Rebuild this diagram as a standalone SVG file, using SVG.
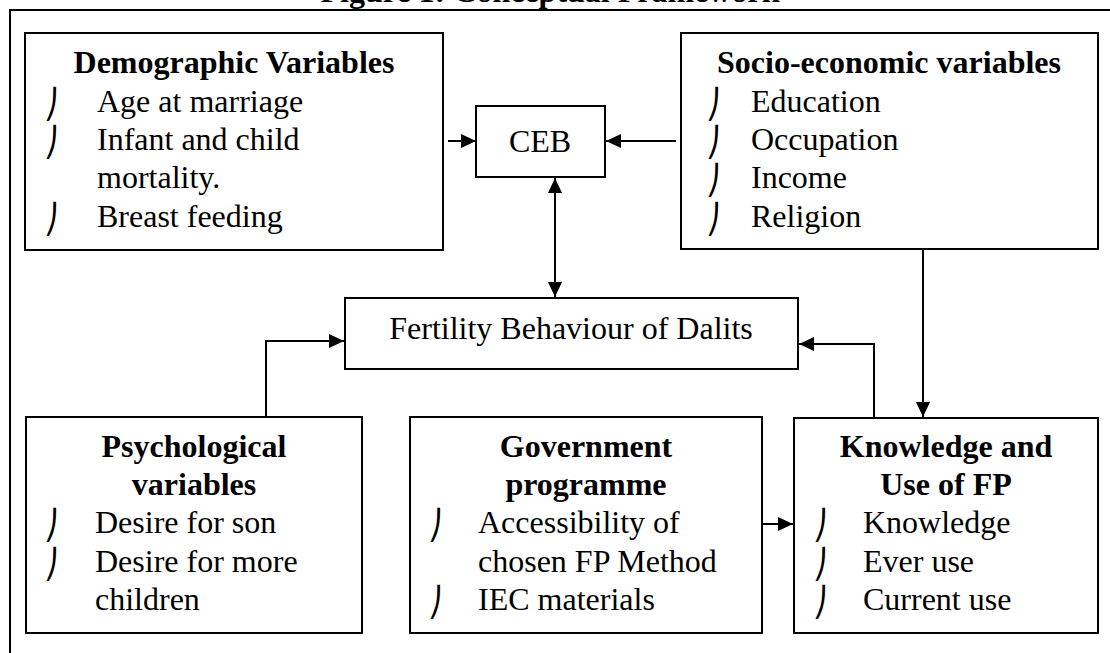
<svg xmlns="http://www.w3.org/2000/svg" width="1110" height="653" viewBox="0 0 1110 653">
<defs>
<style>
.box{fill:#fff;stroke:#000;stroke-width:2}
.t{font-family:"Liberation Serif","Times New Roman",serif;font-size:32px;fill:#000}
.b{font-weight:bold}
.c{text-anchor:middle}
.bul{font-family:"DejaVu Sans",sans-serif;font-size:29px;fill:#000}
.con{fill:none;stroke:#000;stroke-width:2}
</style>
<marker id="ah" markerUnits="userSpaceOnUse" markerWidth="15" markerHeight="14" refX="15" refY="7" orient="auto-start-reverse">
<path d="M0,0 L15,7 L0,14 z" fill="#000"/>
</marker>
</defs>
<rect width="1110" height="653" fill="#fff"/>
<text class="t b c" x="550" y="2">Figure 1: Conceptual Framework</text>
<path d="M10,653 V10 H1110" fill="none" stroke="#000" stroke-width="2"/>

<g id="demographic">
<rect class="box" x="25" y="33" width="418" height="217"/>
<text class="t b c" x="234" y="73">Demographic Variables</text>
<text class="bul" x="44" y="114">⎠</text>
<text class="t" x="97" y="112">Age at marriage</text>
<text class="bul" x="44" y="152">⎠</text>
<text class="t" x="97" y="150">Infant and child</text>
<text class="t" x="97" y="188">mortality.</text>
<text class="bul" x="44" y="229">⎠</text>
<text class="t" x="97" y="227">Breast feeding</text>
</g>

<g id="ceb">
<rect class="box" x="476" y="106" width="129" height="71"/>
<text class="t c" x="540" y="152">CEB</text>
</g>

<g id="socio">
<rect class="box" x="681" y="33" width="417" height="216"/>
<text class="t b c" x="889" y="73">Socio-economic variables</text>
<text class="bul" x="706" y="114">⎠</text>
<text class="t" x="751" y="112">Education</text>
<text class="bul" x="706" y="152">⎠</text>
<text class="t" x="751" y="150">Occupation</text>
<text class="bul" x="706" y="190">⎠</text>
<text class="t" x="751" y="188">Income</text>
<text class="bul" x="706" y="229">⎠</text>
<text class="t" x="751" y="227">Religion</text>
</g>

<g id="fertility">
<rect class="box" x="345" y="298" width="453" height="71"/>
<text class="t c" x="571" y="339">Fertility Behaviour of Dalits</text>
</g>

<g id="psychological">
<rect class="box" x="26" y="417" width="336" height="216"/>
<text class="t b c" x="194" y="457">Psychological</text>
<text class="t b c" x="194" y="495">variables</text>
<text class="bul" x="44" y="535">⎠</text>
<text class="t" x="95" y="533">Desire for son</text>
<text class="bul" x="44" y="574">⎠</text>
<text class="t" x="95" y="572">Desire for more</text>
<text class="t" x="95" y="610">children</text>
</g>

<g id="government">
<rect class="box" x="410" y="417" width="352" height="216"/>
<text class="t b c" x="586" y="457">Government</text>
<text class="t b c" x="586" y="495">programme</text>
<text class="bul" x="428" y="535">⎠</text>
<text class="t" x="478" y="533">Accessibility of</text>
<text class="t" x="478" y="572">chosen FP Method</text>
<text class="bul" x="428" y="612">⎠</text>
<text class="t" x="478" y="610">IEC materials</text>
</g>

<g id="knowledge">
<rect class="box" x="794" y="418" width="304" height="215"/>
<text class="t b c" x="946" y="457">Knowledge and</text>
<text class="t b c" x="946" y="495">Use of FP</text>
<text class="bul" x="813" y="535">⎠</text>
<text class="t" x="863" y="533">Knowledge</text>
<text class="bul" x="813" y="574">⎠</text>
<text class="t" x="863" y="572">Ever use</text>
<text class="bul" x="813" y="612">⎠</text>
<text class="t" x="863" y="610">Current use</text>
</g>

<g id="connectors">
<path class="con" d="M448,141 H476" marker-end="url(#ah)"/>
<path class="con" d="M676,141 H606" marker-end="url(#ah)"/>
<path class="con" d="M555,178 V297" marker-start="url(#ah)" marker-end="url(#ah)"/>
<path class="con" d="M923,249 V417" marker-end="url(#ah)"/>
<path class="con" d="M266,417 V341 H344" marker-end="url(#ah)"/>
<path class="con" d="M874,418 V344 H799" marker-end="url(#ah)"/>
<path class="con" d="M762,524 H793" marker-end="url(#ah)"/>
</g>
</svg>
